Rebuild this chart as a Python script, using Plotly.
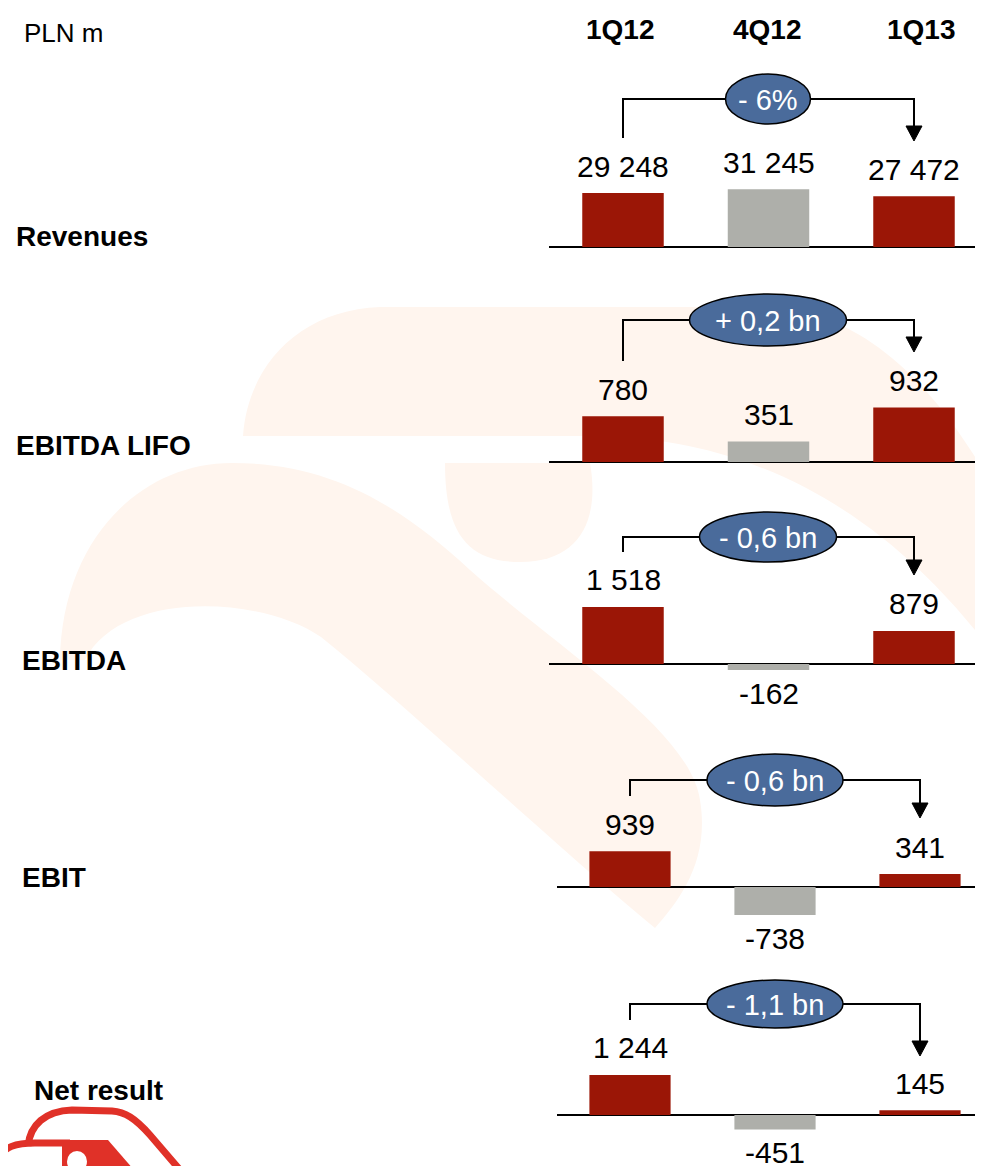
import plotly.graph_objects as go

# data (PLN m)
quarters = ["1Q12", "4Q12", "1Q13"]
metrics = ["Revenues", "EBITDA LIFO", "EBITDA", "EBIT", "Net result"]
revenues = [29248, 31245, 27472]
ebitda_lifo = [780, 351, 932]
ebitda = [1518, -162, 879]
ebit = [939, -738, 341]
net_result = [1244, -451, 145]
changes = ["- 6%", "+ 0,2 bn", "- 0,6 bn", "- 0,6 bn", "- 1,1 bn"]

series = [revenues, ebitda_lifo, ebitda, ebit, net_result]

# page body has an 8px margin, so the figure is a bit smaller than the window
OFF = 8
W, H = 983 - OFF, 1166 - OFF
RED = "#9B1606"
GREY = "#AEAFAA"
OVAL = "#4A6B9B"
LOGO = "#E03128"
FONT = "Liberation Sans, Arial, sans-serif"


def fx(p):
    return (p - OFF) / W


def fy(p):
    return 1 - (p - OFF) / H


def pth(cmds, close=True):
    # cmds: list of (letter, [(x, y), ...]) in window pixels -> svg path in paper coords
    out = []
    for c, pts in cmds:
        if c == "C":
            out.append("C " + " ".join("{:.5f},{:.5f}".format(fx(a), fy(b)) for a, b in pts))
        else:
            for a, b in pts:
                out.append("{} {:.5f},{:.5f}".format(c, fx(a), fy(b)))
    return " ".join(out) + (" Z" if close else "")


# layout per panel (window pixels): baseline, px per unit, domain top/bottom,
# first/last bar centre, x-domain start, bridge y, bridge left bottom, arrow tip,
# oval centre x, oval width, oval height, row label x/y
panels = [
    dict(base=247, k=0.001846, top=60, bot=262, c0=623, c2=914, xs=549,
         by=99, lb=138, tip=141, ox=768, ow=85, oh=50, lx=14, ly=237),
    dict(base=462, k=0.0585, top=275, bot=478, c0=623, c2=914, xs=549,
         by=320, lb=361, tip=352, ox=768, ow=157, oh=52, lx=14, ly=445),
    dict(base=664, k=0.0376, top=490, bot=720, c0=623, c2=914, xs=549,
         by=537, lb=552, tip=575, ox=768, ow=137, oh=50, lx=20, ly=660),
    dict(base=887, k=0.038, top=740, bot=962, c0=630, c2=920, xs=557,
         by=780, lb=796, tip=818, ox=775, ow=136, oh=52, lx=20, ly=877),
    dict(base=1115, k=0.0322, top=970, bot=1166, c0=630, c2=920, xs=557,
         by=1004, lb=1020, tip=1056, ox=775, ow=136, oh=48, lx=32, ly=1090),
]

fig = go.Figure()
layout = dict(
    width=W, height=H,
    margin=dict(l=0, r=0, t=0, b=0),
    paper_bgcolor="white",
    plot_bgcolor="rgba(0,0,0,0)",
    showlegend=False,
    font=dict(family=FONT, color="black"),
)
annotations = []
shapes = []

# faint watermark of the logo in the background
wm = "#FFF5EE"
shapes.append(dict(type="path", xref="paper", yref="paper", layer="below",
                   fillcolor=wm, line=dict(width=0),
                   path=pth([("M", [(243, 436)]),
                             ("C", [(248, 365), (300, 310), (380, 307)]),
                             ("L", [(770, 307)]),
                             ("C", [(860, 312), (930, 380), (983, 470)]),
                             ("L", [(983, 640)]),
                             ("C", [(920, 560), (800, 440), (600, 436)])])))
shapes.append(dict(type="path", xref="paper", yref="paper", layer="below",
                   fillcolor=wm, line=dict(width=0),
                   path=pth([("M", [(60, 660)]),
                             ("C", [(62, 540), (140, 463), (232, 463)]),
                             ("C", [(330, 463), (400, 505), (470, 570)]),
                             ("C", [(560, 650), (690, 730), (700, 800)]),
                             ("C", [(710, 860), (680, 900), (655, 928)]),
                             ("C", [(560, 850), (400, 700), (321, 637)]),
                             ("C", [(260, 595), (120, 590), (85, 660)])])))
shapes.append(dict(type="path", xref="paper", yref="paper", layer="below",
                   fillcolor=wm, line=dict(width=0),
                   path=pth([("M", [(445, 463)]),
                             ("L", [(590, 463)]),
                             ("C", [(600, 520), (580, 562), (520, 562)]),
                             ("C", [(465, 562), (445, 530), (445, 463)])])))

# red logo cut off at the bottom-left corner
shapes.append(dict(type="path", xref="paper", yref="paper", layer="below",
                   line=dict(color=LOGO, width=7),
                   path=pth([("M", [(-2, 1158)]),
                             ("C", [(5, 1147), (15, 1143), (35, 1143)]),
                             ("L", [(70, 1143)])], close=False)))
shapes.append(dict(type="path", xref="paper", yref="paper", layer="below",
                   fillcolor=LOGO, line=dict(width=0),
                   path=pth([("M", [(62, 1140)]),
                             ("L", [(108, 1140), (134, 1170), (62, 1170)])])))
shapes.append(dict(type="circle", xref="paper", yref="paper", layer="below",
                   x0=fx(67), x1=fx(87), y0=fy(1172), y1=fy(1151),
                   fillcolor="white", line=dict(width=0)))
shapes.append(dict(type="path", xref="paper", yref="paper", layer="below",
                   line=dict(color=LOGO, width=7),
                   path=pth([("M", [(28, 1146)]),
                             ("C", [(30, 1125), (45, 1111), (72, 1110)]),
                             ("L", [(112, 1111)]),
                             ("C", [(125, 1112), (135, 1118), (150, 1135)]),
                             ("L", [(180, 1170)])], close=False)))

for i, (p, vals) in enumerate(zip(panels, series)):
    n = "" if i == 0 else str(i + 1)
    unit = (p["c2"] - p["c0"]) / 2
    r0 = -(p["c0"] - p["xs"]) / unit
    r1 = 2 + (983 - p["c2"]) / unit
    ymin = -(p["bot"] - p["base"]) / p["k"]
    ymax = (p["base"] - p["top"]) / p["k"]

    fig.add_trace(go.Bar(
        x=quarters, y=vals, xaxis="x" + n, yaxis="y" + n,
        width=0.56, marker=dict(color=[RED, GREY, RED], line=dict(width=0)),
        hoverinfo="x+y",
    ))
    layout["xaxis" + n] = dict(domain=[fx(p["xs"]), 1], range=[r0, r1], anchor="y" + n,
                               showticklabels=False, showgrid=False, zeroline=False,
                               showline=False, ticks="", fixedrange=True)
    layout["yaxis" + n] = dict(domain=[max(fy(p["bot"]), 0), fy(p["top"])], range=[ymin, ymax],
                               anchor="x" + n, showticklabels=False, showgrid=False,
                               zeroline=True, zerolinecolor="black", zerolinewidth=2,
                               showline=False, ticks="", fixedrange=True)

    # value labels
    for q, v in zip(quarters, vals):
        annotations.append(dict(
            x=q, y=v, xref="x" + n, yref="y" + n, showarrow=False,
            text=f"{v:,}".replace(",", " "), xanchor="center", yanchor="middle",
            yshift=27 if v >= 0 else -23,
            font=dict(size=30, family=FONT, color="black"),
        ))

    # bridge from first to last quarter
    shapes.append(dict(type="path", xref="paper", yref="paper",
                       line=dict(color="black", width=2),
                       path=pth([("M", [(p["c0"], p["lb"])]),
                                 ("L", [(p["c0"], p["by"]), (p["c2"], p["by"]),
                                        (p["c2"], p["tip"] - 14)])], close=False)))
    shapes.append(dict(type="path", xref="paper", yref="paper",
                       fillcolor="black", line=dict(color="black", width=1),
                       path=pth([("M", [(p["c2"] - 8, p["tip"] - 15)]),
                                 ("L", [(p["c2"] + 8, p["tip"] - 15), (p["c2"], p["tip"])])])))
    shapes.append(dict(type="circle", xref="paper", yref="paper",
                       x0=fx(p["ox"] - p["ow"] / 2), x1=fx(p["ox"] + p["ow"] / 2),
                       y0=fy(p["by"] + p["oh"] / 2), y1=fy(p["by"] - p["oh"] / 2),
                       fillcolor=OVAL, line=dict(color="black", width=1.5)))
    annotations.append(dict(x=fx(p["ox"]), y=fy(p["by"] + 1), xref="paper", yref="paper",
                            text=changes[i], showarrow=False,
                            xanchor="center", yanchor="middle",
                            font=dict(size=29, family=FONT, color="white")))

    # row label
    annotations.append(dict(x=fx(p["lx"]), y=fy(p["ly"]), xref="paper", yref="paper",
                            text="<b>" + metrics[i] + "</b>", showarrow=False,
                            xanchor="left", yanchor="middle",
                            font=dict(size=28, family=FONT, color="black")))

# header
annotations.append(dict(x=fx(22), y=fy(33), xref="paper", yref="paper", text="PLN m",
                        showarrow=False, xanchor="left", yanchor="middle",
                        font=dict(size=26, family=FONT, color="black")))
for q, cx in zip(quarters, [620, 767, 921]):
    annotations.append(dict(x=fx(cx), y=fy(30), xref="paper", yref="paper",
                            text="<b>" + q + "</b>", showarrow=False,
                            xanchor="center", yanchor="middle",
                            font=dict(size=28, family=FONT, color="black")))

layout["annotations"] = annotations
layout["shapes"] = shapes
fig.update_layout(**layout)

fig.write_html("out.html")
